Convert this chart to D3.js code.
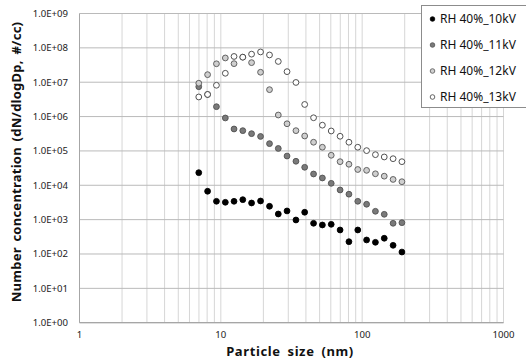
<!DOCTYPE html>
<html><head><meta charset="utf-8">
<script src="https://cdn.jsdelivr.net/npm/d3@7"></script>
<style>body{margin:0;background:#fff;}svg{display:block;font-family:"Noto Sans",sans-serif;}</style>
</head><body><svg id="c" width="526" height="361"></svg>
<script>
const sizes = [6.98, 8.06, 9.31, 10.76, 12.4, 14.3, 16.5, 19.1, 22.1, 25.5, 29.4, 34.0, 39.2, 45.3, 52.3, 60.4, 69.8, 80.6, 93.1, 107.5, 124.1, 143.3, 165.5, 191.1];
const rh10 = [2.33e4, 6.7e3, 3.42e3, 3.2e3, 3.42e3, 3.81e3, 3.05e3, 3.49e3, 2.45e3, 1.46e3, 1.79e3, 977, 1.64e3, 783, 699, 731, 500, 228, 500, 256, 219, 287, 179, 114];
const rh11 = [7.4e6, 4.4e6, 1.94e6, 9.1e5, 4.35e5, 3.89e5, 3.18e5, 2.64e5, 1.63e5, 1.18e5, 7.1e4, 5.0e4, 3.34e4, 2.13e4, 1.63e4, 1.14e4, 7.3e3, 5.5e3, 3.42e3, 2.8e3, 1.75e3, 1.43e3, 783, 815];
const rh12 = [9.33e6, 1.66e7, 3.44e7, 5.08e7, 3.47e7, 5.36e7, 3.71e7, 1.95e7, 6.07e6, 1.11e6, 6.17e5, 3.89e5, 2.72e5, 1.79e5, 1.28e5, 7.47e4, 4.86e4, 4.09e4, 2.88e4, 2.72e4, 2.16e4, 1.84e4, 1.48e4, 1.27e4];
const rh13 = [3.72e6, 4.40e6, 8.15e6, 1.82e7, 5.62e7, 5.36e7, 6.56e7, 7.60e7, 6.21e7, 4.02e7, 2.03e7, 9.84e6, 2.25e6, 9.23e5, 5.62e5, 3.81e5, 2.67e5, 1.79e5, 1.28e5, 1.02e5, 7.78e4, 6.67e4, 5.94e4, 4.86e4];
const seriesNames = ["RH 40%_10kV", "RH 40%_11kV", "RH 40%_12kV", "RH 40%_13kV"];
const xTicks = [1, 10, 100, 1000];
const yTicks = [1e0, 1e1, 1e2, 1e3, 1e4, 1e5, 1e6, 1e7, 1e8, 1e9];
const yTickLabels = ["1.0E+00","1.0E+01","1.0E+02","1.0E+03","1.0E+04","1.0E+05","1.0E+06","1.0E+07","1.0E+08","1.0E+09"];

const fills = ["#000000", "#7a7a7a", "#cfcfcf", "#ffffff"];
const strokes = ["#000000", "#505050", "#555555", "#404040"];

const svg = d3.select("#c");
const L = 79.5, R = 503.5, T = 13.5, B = 322.7;
const x = d3.scaleLog().domain([1, 1000]).range([L, R]);
const y = d3.scaleLog().domain([1, 1e9]).range([B, T]);

const vg = [];
for (let d = 1; d < 1000; d *= 10) for (let m = 1; m <= 9; m++) vg.push(d * m);
vg.push(1000);
svg.append("g").selectAll("line").data(vg).join("line")
  .attr("x1", d => x(d)).attr("x2", d => x(d)).attr("y1", T).attr("y2", B)
  .attr("stroke", "#d6d6d6").attr("stroke-width", 1);
svg.append("g").selectAll("line").data(yTicks).join("line")
  .attr("x1", L).attr("x2", R).attr("y1", d => y(d)).attr("y2", d => y(d))
  .attr("stroke", "#bababa").attr("stroke-width", 1);

svg.append("line").attr("x1", L).attr("x2", L).attr("y1", T).attr("y2", B).attr("stroke", "#a6a6a6");
svg.append("line").attr("x1", L).attr("x2", R).attr("y1", B).attr("y2", B).attr("stroke", "#a6a6a6").attr("stroke-width", 1.2);

svg.append("g").selectAll("text").data(yTicks).join("text")
  .attr("x", 68).attr("y", d => y(d)).attr("dy", "0.35em").attr("text-anchor", "end")
  .attr("font-size", 9.6).attr("fill", "#222").text((d, i) => yTickLabels[i]);
svg.append("g").selectAll("text").data(xTicks).join("text")
  .attr("x", d => x(d)).attr("y", 338).attr("text-anchor", "middle")
  .attr("font-size", 9.6).attr("fill", "#222").text(d => d);

svg.append("text").attr("x", 290).attr("y", 356).attr("text-anchor", "middle")
  .attr("font-size", 13).attr("font-weight", "bold").attr("letter-spacing", 0.6).attr("word-spacing", 3)
  .attr("fill", "#111").text("Particle size (nm)");
svg.append("text").attr("transform", "translate(21,162) rotate(-90)").attr("text-anchor", "middle")
  .attr("font-size", 13).attr("font-weight", "bold").attr("letter-spacing", 0.25).attr("word-spacing", 2)
  .attr("fill", "#111").text("Number concentration (dN/dlogDp, #/cc)");

const all = [rh10, rh11, rh12, rh13];
all.forEach((vals, si) => {
  svg.append("g").selectAll("circle").data(vals).join("circle")
    .attr("cx", (d, i) => x(sizes[i])).attr("cy", d => y(d)).attr("r", 2.9)
    .attr("fill", fills[si]).attr("stroke", strokes[si]).attr("stroke-width", 0.9);
});

const lg = svg.append("g");
lg.append("rect").attr("x", 421.5).attr("y", 5.5).attr("width", 110).attr("height", 102)
  .attr("fill", "#fff").attr("stroke", "#8c8c8c");
const rowsY = [19, 45, 71, 97];
seriesNames.forEach((n, i) => {
  lg.append("circle").attr("cx", 432.5).attr("cy", rowsY[i]).attr("r", 2.3)
    .attr("fill", fills[i]).attr("stroke", strokes[i]).attr("stroke-width", 0.8);
  lg.append("text").attr("x", 440).attr("y", rowsY[i]).attr("dy", "0.36em")
    .attr("font-size", 12).attr("fill", "#111").text(n);
});
</script></body></html>
